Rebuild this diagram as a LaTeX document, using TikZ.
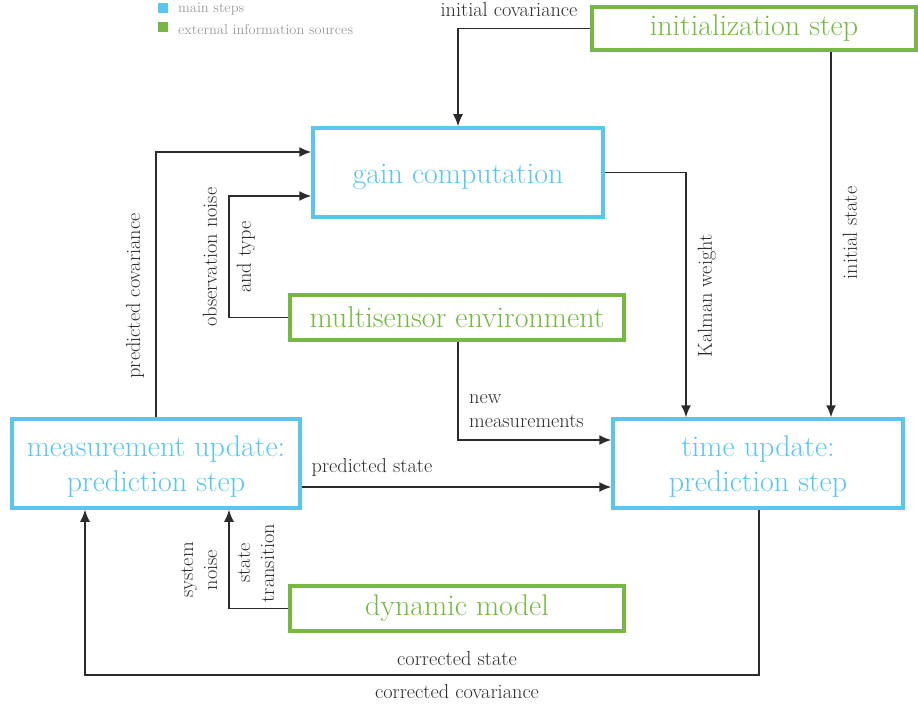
\documentclass[tikz,border=0pt]{standalone}
\usetikzlibrary{arrows.meta}
\definecolor{mblue}{HTML}{5BC5F0}
\definecolor{mgreen}{HTML}{76B843}
\definecolor{lgray}{HTML}{9A9A9A}
\definecolor{dline}{HTML}{2B2B2B}
\begin{document}
\begin{tikzpicture}[x=1pt,y=-1pt,
  mainbox/.style={draw=mblue,line width=3.5pt,text=mblue,font=\fontsize{30}{35}\selectfont,align=center,inner sep=0pt,text depth=0pt},
  extbox/.style={draw=mgreen,line width=3.5pt,text=mgreen,font=\fontsize{30}{35}\selectfont,align=center,inner sep=0pt},
  conn/.style={draw=dline,line width=1.5pt,-{Latex[length=12pt,width=10pt]}},
  lbl/.style={font=\fontsize{20.3}{24}\selectfont,text=dline,inner sep=0pt,align=center},
  leg/.style={font=\fontsize{14.4}{16}\selectfont,text=lgray,anchor=west,inner sep=0pt}]
\useasboundingbox (0,0) rectangle (918,708);
% legend
\fill[mblue] (158,3) rectangle (168,13);
\fill[mgreen] (158,22) rectangle (168,32);
\node[leg] (l1) at (178,9) {main steps};
\node[leg] (l2) at (178,30) {external information sources};
% boxes
\node[extbox,minimum width=324pt,minimum height=43pt] (init) at (754,28.5) {\raisebox{-2pt}{initialization step}};
\node[mainbox,minimum width=290pt,minimum height=89pt] (gain) at (458,172.5) {\raisebox{-2pt}{gain computation}};
\node[extbox,minimum width=334pt,minimum height=45pt] (multi) at (457,317.5) {\raisebox{-1pt}{multisensor environment}};
\node[mainbox,minimum width=288pt,minimum height=89pt] (meas) at (156,463.5) {measurement update:\\prediction step};
\node[mainbox,minimum width=290pt,minimum height=89pt] (time) at (758,463.5) {time update:\\prediction step};
\node[extbox,minimum width=334pt,minimum height=45pt] (dyn) at (457,608.5) {\raisebox{-1pt}{dynamic model}};
% coordinates
\coordinate (c1) at (458,28.5);
\coordinate (c2) at (686,172.5);
\coordinate (c3) at (458,440);
\coordinate (c4) at (156,152);
\coordinate (c5) at (229,317.5);
\coordinate (c6) at (229,196);
\coordinate (c7) at (229,608.5);
\coordinate (c8) at (759,675);
\coordinate (c9) at (85,675);
% connectors
\draw[conn] (init.west) -- (c1) -- (c1 |- gain.north);
\draw[conn] (init.south -| 831,0) -- (831,0 |- time.north);
\draw[conn] (gain.east |- c2) -- (c2) -- (c2 |- time.north);
\draw[conn] (c3 |- multi.south) -- (c3) -- (c3 -| time.west);
\draw[conn] (meas.east |- 0,487) -- (time.west |- 0,487);
\draw[conn] (meas.north) -- (c4) -- (c4 -| gain.west);
\draw[conn] (multi.west) -- (c5) -- (c6) -- (c6 -| gain.west);
\draw[conn] (dyn.west) -- (c7) -- (c7 |- meas.south);
\draw[conn] (c8 |- time.south) -- (c8) -- (c9) -- (c9 |- meas.south);
% labels
\node[lbl] (t1) at (509,10) {initial covariance};
\node[lbl,rotate=90] (t2) at (850,233) {initial state};
\node[lbl,rotate=90] (t3) at (707,296) {Kalman weight};
\node[lbl,anchor=west,align=left] (t4) at (469,411) {new\\measurements};
\node[lbl] (t5) at (372,467) {predicted state};
\node[lbl,rotate=90] (t6) at (135,296) {predicted covariance};
\node[lbl,rotate=90] (t7) at (210,257) {observation noise};
\node[lbl,rotate=90] (t8) at (246,257) {and type};
\node[lbl,rotate=90] (t9) at (199,570) {system\\noise};
\node[lbl,rotate=90] (t10) at (256,563) {state\\transition};
\node[lbl] (t11) at (457,659) {corrected state};
\node[lbl] (t12) at (457,692) {corrected covariance};
\end{tikzpicture}
\end{document}
